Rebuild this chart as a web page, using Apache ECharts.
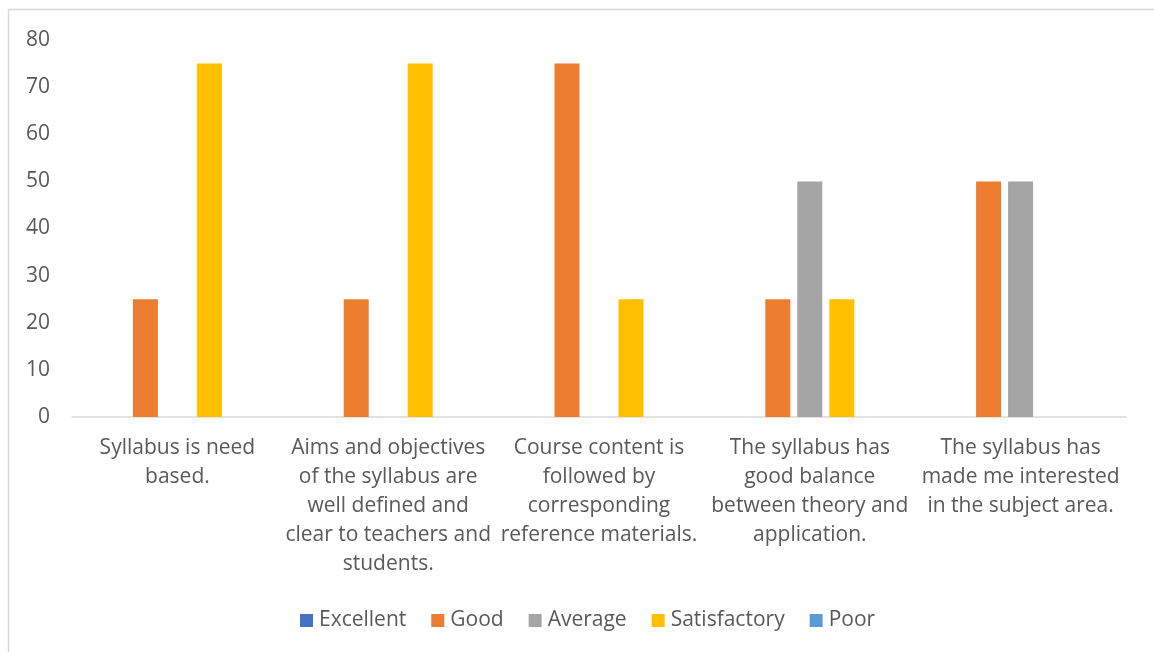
<!DOCTYPE html>
<html>
<head>
<meta charset="utf-8">
<script src="https://cdn.jsdelivr.net/npm/echarts@6/dist/echarts.min.js"></script>
<style>
  html, body { margin: 0; padding: 0; background: #fff; }
  #chart { width: 1154px; height: 652px; }
</style>
</head>
<body>
<div id="chart"></div>
<script>
// Survey statements (axis categories, wrapped as displayed)
const categories = [
  'Syllabus is need\nbased.',
  'Aims and objectives\nof the syllabus are\nwell defined and\nclear to teachers and\nstudents.',
  'Course content is\nfollowed by\ncorresponding\nreference materials.',
  'The syllabus has\ngood balance\nbetween theory and\napplication.',
  'The syllabus has\nmade me interested\nin the subject area.'
];

// Response percentages per rating
const excellent    = [0, 0, 0, 0, 0];
const good         = [25, 25, 75, 25, 50];
const average      = [0, 0, 0, 50, 50];
const satisfactory = [75, 75, 25, 25, 0];
const poor         = [0, 0, 0, 0, 0];

const yTicks = { min: 0, max: 80, interval: 10 };

const FONT = '"Open Sans", "Liberation Sans", sans-serif';
const TEXT = '#595959';

const chart = echarts.init(document.getElementById('chart'), null, { renderer: 'canvas' });

function bar(name, data, color) {
  return {
    name, type: 'bar', data,
    barWidth: 25, barGap: '28%',
    itemStyle: { color },
    emphasis: { disabled: true }
  };
}

chart.setOption({
  animation: false,
  backgroundColor: '#ffffff',
  textStyle: { fontFamily: FONT },
  graphic: [{
    type: 'rect',
    shape: { x: 8.5, y: 9.5, width: 1160, height: 660 },
    style: { fill: 'none', stroke: '#d9d9d9', lineWidth: 1.5 },
    silent: true
  }],
  grid: { left: 72, right: 28, top: 40, bottom: 235, containLabel: false },
  legend: {
    bottom: 16,
    left: 295,
    itemWidth: 13, itemHeight: 13, itemGap: 25,
    icon: 'rect',
    textStyle: { color: TEXT, fontSize: 21, fontFamily: FONT, padding: [0, 0, 0, 1] },
    data: ['Excellent', 'Good', 'Average', 'Satisfactory', 'Poor']
  },
  xAxis: {
    type: 'category',
    data: categories,
    axisLine: { show: true, lineStyle: { color: '#d9d9d9', width: 1.5 } },
    axisTick: { show: false },
    axisLabel: {
      color: TEXT, fontSize: 21, fontFamily: FONT,
      lineHeight: 29, margin: 17, interval: 0, align: 'center'
    }
  },
  yAxis: {
    type: 'value',
    min: yTicks.min, max: yTicks.max, interval: yTicks.interval,
    axisLine: { show: false },
    axisTick: { show: false },
    splitLine: { show: false },
    axisLabel: { color: TEXT, fontSize: 21, fontFamily: FONT, margin: 22 }
  },
  series: [
    bar('Excellent', excellent, '#4472C4'),
    bar('Good', good, '#ED7D31'),
    bar('Average', average, '#A5A5A5'),
    bar('Satisfactory', satisfactory, '#FFC000'),
    bar('Poor', poor, '#5B9BD5')
  ]
});
</script>
</body>
</html>
